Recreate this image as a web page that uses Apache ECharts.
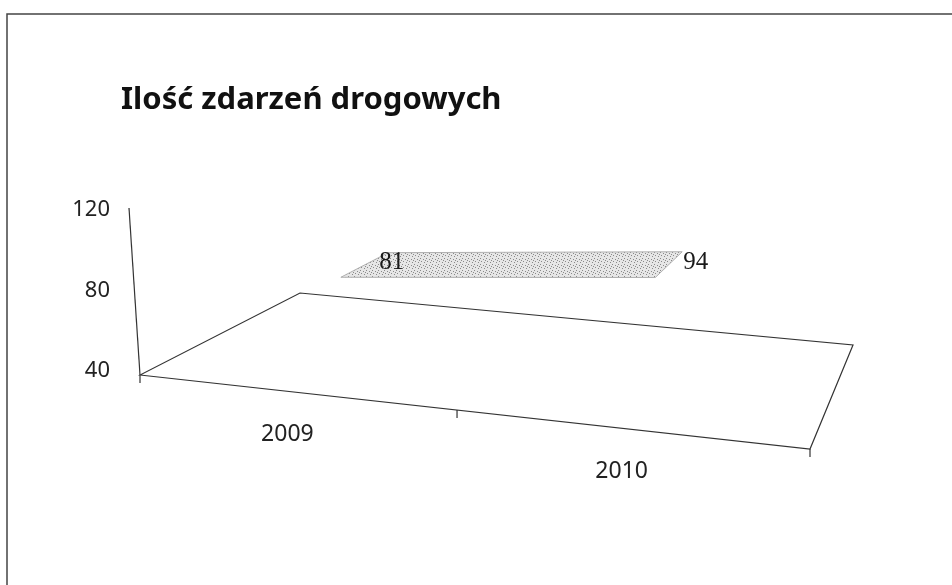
<!DOCTYPE html>
<html>
<head>
<meta charset="utf-8">
<script src="https://cdn.jsdelivr.net/npm/echarts@6/dist/echarts.min.js"></script>
<style>
  html, body { margin: 0; padding: 0; background: #fff; }
  #chart { width: 952px; height: 585px; }
</style>
</head>
<body>
<div id="chart"></div>
<script>
const categories = ['2009', '2010']
const values = [81, 94]
const yTicks = [40, 80, 120]

const chart = echarts.init(document.getElementById('chart'))

// floor of the 3d box, offsets from the front-left corner
const floorFR = [670, 74]
const floorBR = [713, -30]
const floorBL = [160, -82]
// ribbon depth (0 = front edge of floor, 1 = back edge)
const ribbonFront = 0.3
const ribbonBack = 0.65
const heightScale = 1.07

// stipple texture like the printed original
const stipple = (() => {
  const c = document.createElement('canvas')
  c.width = 6
  c.height = 6
  const ctx = c.getContext('2d')
  ctx.fillStyle = '#e6e6e6'
  ctx.fillRect(0, 0, 6, 6)
  ctx.fillStyle = '#8a8a8a'
  ;[[0, 0], [3, 1], [1, 3], [4, 4], [5, 2]].forEach(([x, y]) => ctx.fillRect(x, y, 1, 1))
  return c
})()

// unit square -> floor quad (projective)
const makeProjector = (x0, y0) => {
  const x1 = x0 + floorFR[0], y1 = y0 + floorFR[1]
  const x2 = x0 + floorBR[0], y2 = y0 + floorBR[1]
  const x3 = x0 + floorBL[0], y3 = y0 + floorBL[1]
  const dx1 = x1 - x2, dx2 = x3 - x2, dx3 = x0 - x1 + x2 - x3
  const dy1 = y1 - y2, dy2 = y3 - y2, dy3 = y0 - y1 + y2 - y3
  const den = dx1 * dy2 - dx2 * dy1
  const g = (dx3 * dy2 - dx2 * dy3) / den
  const h = (dx1 * dy3 - dx3 * dy1) / den
  const a = x1 - x0 + g * x1
  const b = x3 - x0 + h * x3
  const d = y1 - y0 + g * y1
  const e = y3 - y0 + h * y3
  return (u, v, lift) => {
    const w = g * u + h * v + 1
    return [(a * u + b * v + x0) / w, (d * u + e * v + y0) / w - (lift || 0) * heightScale / w]
  }
}

const renderItem = (params, api) => {
  const cs = params.coordSys
  const P = makeProjector(cs.x, cs.y + cs.height + 4)
  const yBase = api.coord([0, yTicks[0]])[1]
  const pos = (i) => {
    const c = api.coord([i, values[i]])
    return { u: (c[0] - cs.x) / cs.width, lift: yBase - c[1] }
  }
  const lineStyle = { stroke: '#333', lineWidth: 1.2, fill: null }
  const children = []
  const i = params.dataIndex
  const p = pos(i)

  if (i === 0) {
    // floor outline
    children.push({
      type: 'polygon',
      shape: { points: [P(0, 0), P(1, 0), P(1, 1), P(0, 1)] },
      style: lineStyle
    })
    // ticks under front edge
    ;[0, 0.5, 1].forEach((t) => {
      const q = P(t, 0)
      children.push({ type: 'line', shape: { x1: q[0], y1: q[1], x2: q[0], y2: q[1] + 8 }, style: lineStyle })
    })
    // slanted value axis
    const fl = P(0, 0)
    const top = api.coord([0, yTicks[yTicks.length - 1]])[1] - 2
    children.push({ type: 'line', shape: { x1: fl[0], y1: fl[1], x2: fl[0] - 11, y2: top }, style: lineStyle })

    // data ribbon
    const pts = []
    const a = pos(0), b = pos(categories.length - 1)
    pts.push(P(a.u, ribbonFront, a.lift))
    pts.push(P(b.u, ribbonFront, b.lift))
    pts.push(P(b.u, ribbonBack, b.lift))
    pts.push(P(a.u, ribbonBack, a.lift))
    children.push({
      type: 'polygon',
      shape: { points: pts },
      style: { fill: { image: stipple, repeat: 'repeat' }, stroke: '#b0b0b0', lineWidth: 1 }
    })
  }

  // value label
  const mid = P(p.u, (ribbonFront + ribbonBack) / 2, p.lift)
  children.push({
    type: 'text',
    z2: 10,
    style: {
      x: mid[0] + 14, y: mid[1] - 2,
      text: String(values[i]),
      font: '25px "Liberation Serif"',
      fill: '#1a1a1a',
      align: 'left', verticalAlign: 'middle'
    }
  })
  // category label along the slanted front edge
  const front = P(p.u, 0)
  children.push({
    type: 'text',
    style: {
      x: front[0] - 7, y: front[1] + 42,
      text: categories[i],
      font: '23px "Noto Sans"',
      fill: '#222',
      align: 'center', verticalAlign: 'middle'
    }
  })
  return { type: 'group', children }
}

const option = {
  animation: false,
  title: {
    text: 'Ilość zdarzeń drogowych',
    left: 116,
    top: 80,
    textStyle: { fontFamily: 'Noto Sans', fontSize: 31, fontWeight: 'bold', color: '#111' }
  },
  graphic: [
    {
      type: 'rect',
      shape: { x: 7, y: 14, width: 1000, height: 650 },
      style: { fill: null, stroke: '#444', lineWidth: 1.5 }
    }
  ],
  grid: { left: 140, right: 142, top: 210, bottom: 214 },
  xAxis: {
    type: 'category',
    data: categories,
    show: false
  },
  yAxis: {
    type: 'value',
    min: yTicks[0],
    max: yTicks[yTicks.length - 1],
    interval: 40,
    axisLine: { show: false },
    axisTick: { show: false },
    splitLine: { show: false },
    axisLabel: { margin: 30, fontFamily: 'Noto Sans', fontSize: 22, color: '#222' }
  },
  series: [
    {
      type: 'custom',
      renderItem: renderItem,
      data: values.map((v, i) => [i, v])
    }
  ]
}

chart.setOption(option)
</script>
</body>
</html>
